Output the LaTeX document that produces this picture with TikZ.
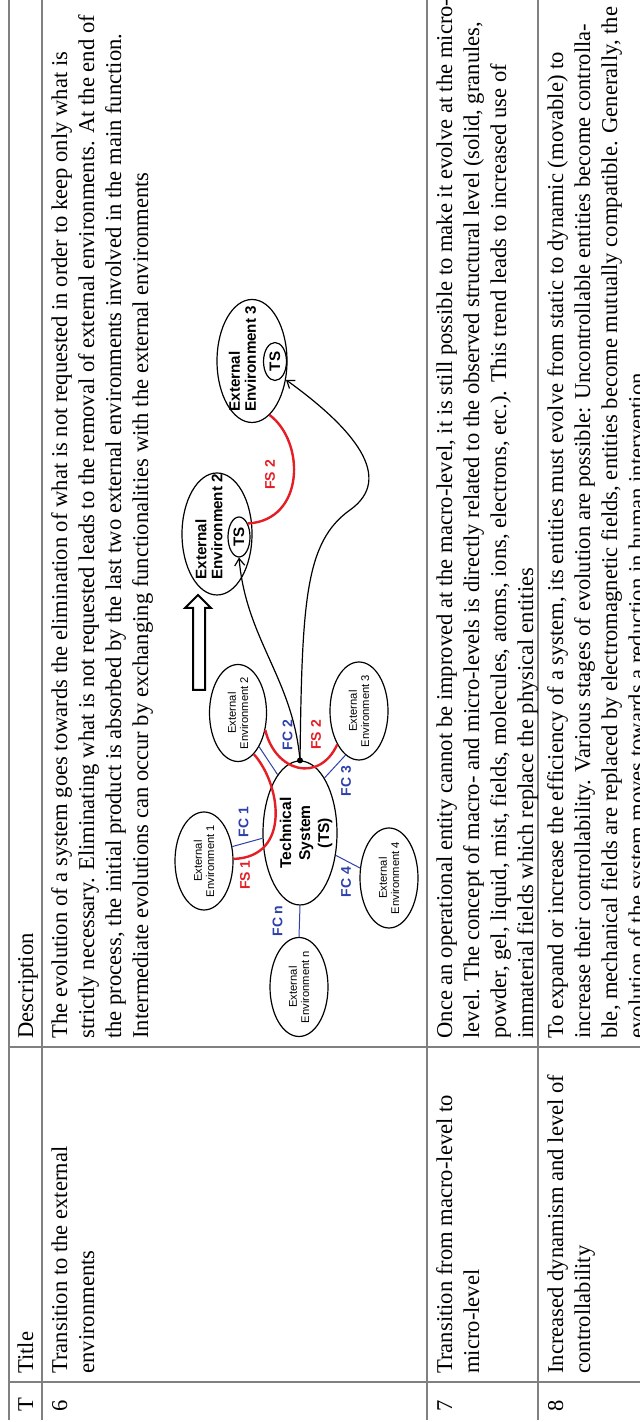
\documentclass[tikz,border=0pt]{standalone}
\usepackage{fontspec}
\setmainfont{Liberation Serif}
\setsansfont{Liberation Sans}
\usetikzlibrary{shapes.geometric,arrows.meta}
\definecolor{fsred}{RGB}{228,30,36}
\definecolor{fcblue}{RGB}{46,64,170}
\definecolor{rulegray}{RGB}{128,128,128}

\begin{document}
\begin{tikzpicture}[x=0.5pt, y=0.5pt,
    rule/.style={rulegray, line width=1pt},
    cell/.style={rotate=90, anchor=base west, inner sep=0pt, align=left, font=\fontsize{11.3}{13.5}\selectfont},
    env/.style={draw, ellipse, rotate=90, inner sep=-1pt, align=center, line width=0.6pt, font=\sffamily\fontsize{5.6}{6.2}\selectfont},
    bigenv/.style={draw, ellipse, rotate=90, inner sep=0pt, line width=0.6pt},
    boldtxt/.style={rotate=90, inner sep=0pt, align=left, font=\sffamily\bfseries\fontsize{7.6}{8}\selectfont},
    fsline/.style={fsred, line width=1.2pt},
    fcline/.style={fcblue, line width=0.5pt},
    fslabel/.style={rotate=90, inner sep=0pt, text=fsred, font=\sffamily\bfseries\fontsize{7}{8}\selectfont},
    fclabel/.style={rotate=90, inner sep=0pt, text=fcblue, font=\sffamily\bfseries\fontsize{7}{8}\selectfont},
    flow/.style={line width=0.6pt, -{Straight Barb[length=3.5pt,width=5pt]}}
]
\useasboundingbox (0,0) rectangle (640,1422);
\clip (0,0) rectangle (640,1422);

% table rules
\foreach \x in {9,42,427,538}
    \draw[rule] (\x,2) -- (\x,1430);
\foreach \y in {40,375}
    \draw[rule] (9,\y) -- (650,\y);

% header
\node[cell] (hT) at (33,10) {T};
\node[cell] (hTitle) at (33,48) {Title};
\node[cell] (hDesc) at (33,383) {Description};

% row 6 (anchored on the baseline of the last line)
\node[cell] (n6) at (67,10) {6};
\node[cell] (t6) at (94,48) {Transition to the external\\environments};
\node[cell] (d6) at (148,383) {The evolution of a system goes towards the elimination of what is not requested in order to keep only what is\\
strictly necessary. Eliminating what is not requested leads to the removal of external environments. At the end of\\
the process, the initial product is absorbed by the last two external environments involved in the main function.\\
Intermediate evolutions can occur by exchanging functionalities with the external environments};

% row 7
\node[cell] (n7) at (452,10) {7};
\node[cell] (t7) at (479,48) {Transition from macro-level to\\micro-level};
\node[cell] (d7) at (533,383) {Once an operational entity cannot be improved at the macro-level, it is still possible to make it evolve at the micro-\\
level. The concept of macro- and micro-levels is directly related to the observed structural level (solid, granules,\\
powder, gel, liquid, mist, fields, molecules, atoms, ions, electrons, etc.). This trend leads to increased use of\\
immaterial fields which replace the physical entities};

% row 8
\node[cell] (n8) at (563,10) {8};
\node[cell] (t8) at (590,48) {Increased dynamism and level of\\controllability};
\node[cell] (d8) at (644,383) {To expand or increase the efficiency of a system, its entities must evolve from static to dynamic (movable) to\\
increase their controllability. Various stages of evolution are possible: Uncontrollable entities become controlla-\\
ble, mechanical fields are replaced by electromagnetic fields, entities become mutually compatible. Generally, the\\
evolution of the system moves towards a reduction in human intervention};

% technical system and its environments
\node[bigenv, minimum width=72pt, minimum height=37pt] (ts) at (300,589) {};
\node[boldtxt, align=center, font=\sffamily\bfseries\fontsize{7.8}{9.5}\selectfont] (tstxt) at ([xshift=3pt]ts.center) {Technical\\System\\(TS)};
\node[env, minimum width=49pt, minimum height=29pt] (e1) at (204,561) {External\\Environment 1};
\node[env, minimum width=48.5pt, minimum height=28.5pt] (e2) at (238,709) {External\\Environment 2};
\node[env, minimum width=49pt, minimum height=29pt] (e3) at (359,711) {External\\Environment 3};
\node[env, minimum width=50pt, minimum height=29pt] (e4) at (389,544) {External\\Environment 4};
\node[env, minimum width=49.5pt, minimum height=29pt] (en) at (299,435) {External\\Environment n};

\draw[fcline] (e1.-63) -- (ts.98);
\draw[fcline] (e2.-148) -- (ts.21);
\draw[fcline] (ts.-24) -- (e3.163);
\draw[fcline] (ts.-122) -- (e4.71);
\draw[fcline] (ts.west) -- (en.east);
\draw[fsline] (e1.-86) .. controls +(58,2) and +(27,-30) .. (e2.-159);
\draw[fsline] (e2.-122) .. controls +(10,-42) and +(-18,-39) .. (e3.147);

\node[fclabel] (fc1) at (243.5,600) {FC 1};
\node[fslabel] (fs1) at (245,547) {FS 1};
\node[fclabel] (fcn) at (277.5,501) {FC n};
\node[fclabel] (fc2) at (287.5,687) {FC 2};
\node[fslabel] (fs2) at (316,687) {FS 2};
\node[fclabel] (fc3) at (346,641) {FC 3};
\node[fclabel] (fc4) at (346,540) {FC 4};

% evolution arrow
\draw[line width=1pt, fill=white] (193,732) -- (205,732) -- (205,814) -- (211,814)
    -- (198,827) -- (185,814) -- (193,814) -- cycle;

% evolved environments
\node[bigenv, minimum width=61pt, minimum height=35pt] (big2) at (217,888) {};
\node[bigenv, minimum width=61.5pt, minimum height=35pt] (big3) at (252,1061) {};
\node[boldtxt, anchor=west] (big2txt) at (209,842) {External\\Environment 2};
\node[boldtxt, anchor=west] (big3txt) at (242.5,1010) {External\\Environment 3};
\node[bigenv, minimum width=20pt, minimum height=11pt, font=\sffamily\bfseries\fontsize{7.6}{8}\selectfont] (t2) at (239,885) {TS};
\node[bigenv, minimum width=19pt, minimum height=11.5pt, font=\sffamily\bfseries\fontsize{7.6}{8}\selectfont] (t3) at (275,1060.5) {TS};

\draw[fsline] (t2.-33) .. controls +(57,3) and +(36,-27) .. (big3.-162);
\node[fslabel] (fs2b) at (270,947) {FS 2};

\coordinate (bend) at (350,912);
\fill (ts.east) circle (3);
\draw[flow] (ts.east) to[out=95, in=275] (t2.west);
\draw[flow] (ts.east) .. controls +(2,159) and +(-45,-32) .. (bend)
    .. controls +(45,32) and +(68,-49) .. (big3.-119);
\end{tikzpicture}
\end{document}
